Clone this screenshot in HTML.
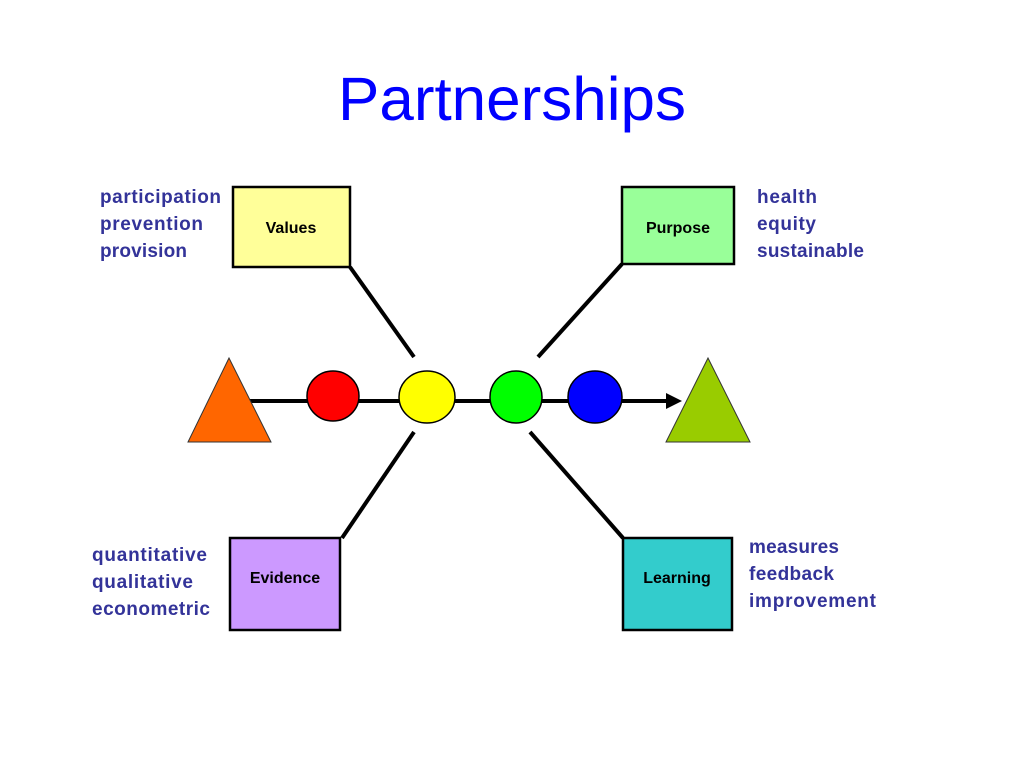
<!DOCTYPE html>
<html><head><style>
body{margin:0;width:1024px;height:768px;background:#fff;overflow:hidden}
</style></head><body>
<svg width="1024" height="768" xmlns="http://www.w3.org/2000/svg">
<text x="512" y="120" text-anchor="middle" font-family="Liberation Sans, sans-serif" font-size="61" fill="#0000ff" textLength="348" lengthAdjust="spacingAndGlyphs">Partnerships</text>
<g stroke="#000" stroke-width="4">
<line x1="250" y1="401" x2="670" y2="401"/>
<line x1="350" y1="267" x2="414" y2="357"/>
<line x1="622" y1="264" x2="538" y2="357"/>
<line x1="342" y1="538" x2="414" y2="432"/>
<line x1="623" y1="538" x2="530" y2="432"/>
</g>
<polygon points="682,401 666,393 666,409" fill="#000"/>
<polygon points="229,358 188,442 271,442" fill="#ff6600" stroke="#333" stroke-width="1"/>
<polygon points="708,358 666,442 750,442" fill="#99cc00" stroke="#333" stroke-width="1"/>
<g stroke="#000" stroke-width="1.5">
<ellipse cx="333" cy="396" rx="26" ry="25" fill="#ff0000"/>
<ellipse cx="427" cy="397" rx="28" ry="26" fill="#ffff00"/>
<ellipse cx="516" cy="397" rx="26" ry="26" fill="#00ff00"/>
<ellipse cx="595" cy="397" rx="27" ry="26" fill="#0000ff"/>
</g>
<g stroke="#000" stroke-width="2.5">
<rect x="233" y="187" width="117" height="80" fill="#ffff99"/>
<rect x="622" y="187" width="112" height="77" fill="#99ff99"/>
<rect x="230" y="538" width="110" height="92" fill="#cc99ff"/>
<rect x="623" y="538" width="109" height="92" fill="#33cccc"/>
</g>
<g font-family="Liberation Sans, sans-serif" font-size="16" font-weight="bold" text-anchor="middle" fill="#000">
<text x="291" y="233">Values</text>
<text x="678" y="233">Purpose</text>
<text x="285" y="583">Evidence</text>
<text x="677" y="583">Learning</text>
</g>
<g font-family="Liberation Sans, sans-serif" font-size="19" font-weight="bold" fill="#333399" lengthAdjust="spacingAndGlyphs">
<text x="100" y="203" textLength="121">participation</text>
<text x="100" y="230" textLength="103">prevention</text>
<text x="100" y="257" textLength="87">provision</text>
<text x="757" y="203" textLength="60">health</text>
<text x="757" y="230" textLength="59">equity</text>
<text x="757" y="257" textLength="107">sustainable</text>
<text x="92" y="561" textLength="115">quantitative</text>
<text x="92" y="588" textLength="101">qualitative</text>
<text x="92" y="615" textLength="118">econometric</text>
<text x="749" y="553" textLength="90">measures</text>
<text x="749" y="580" textLength="85">feedback</text>
<text x="749" y="607" textLength="127">improvement</text>
</g>
</svg>
</body></html>
